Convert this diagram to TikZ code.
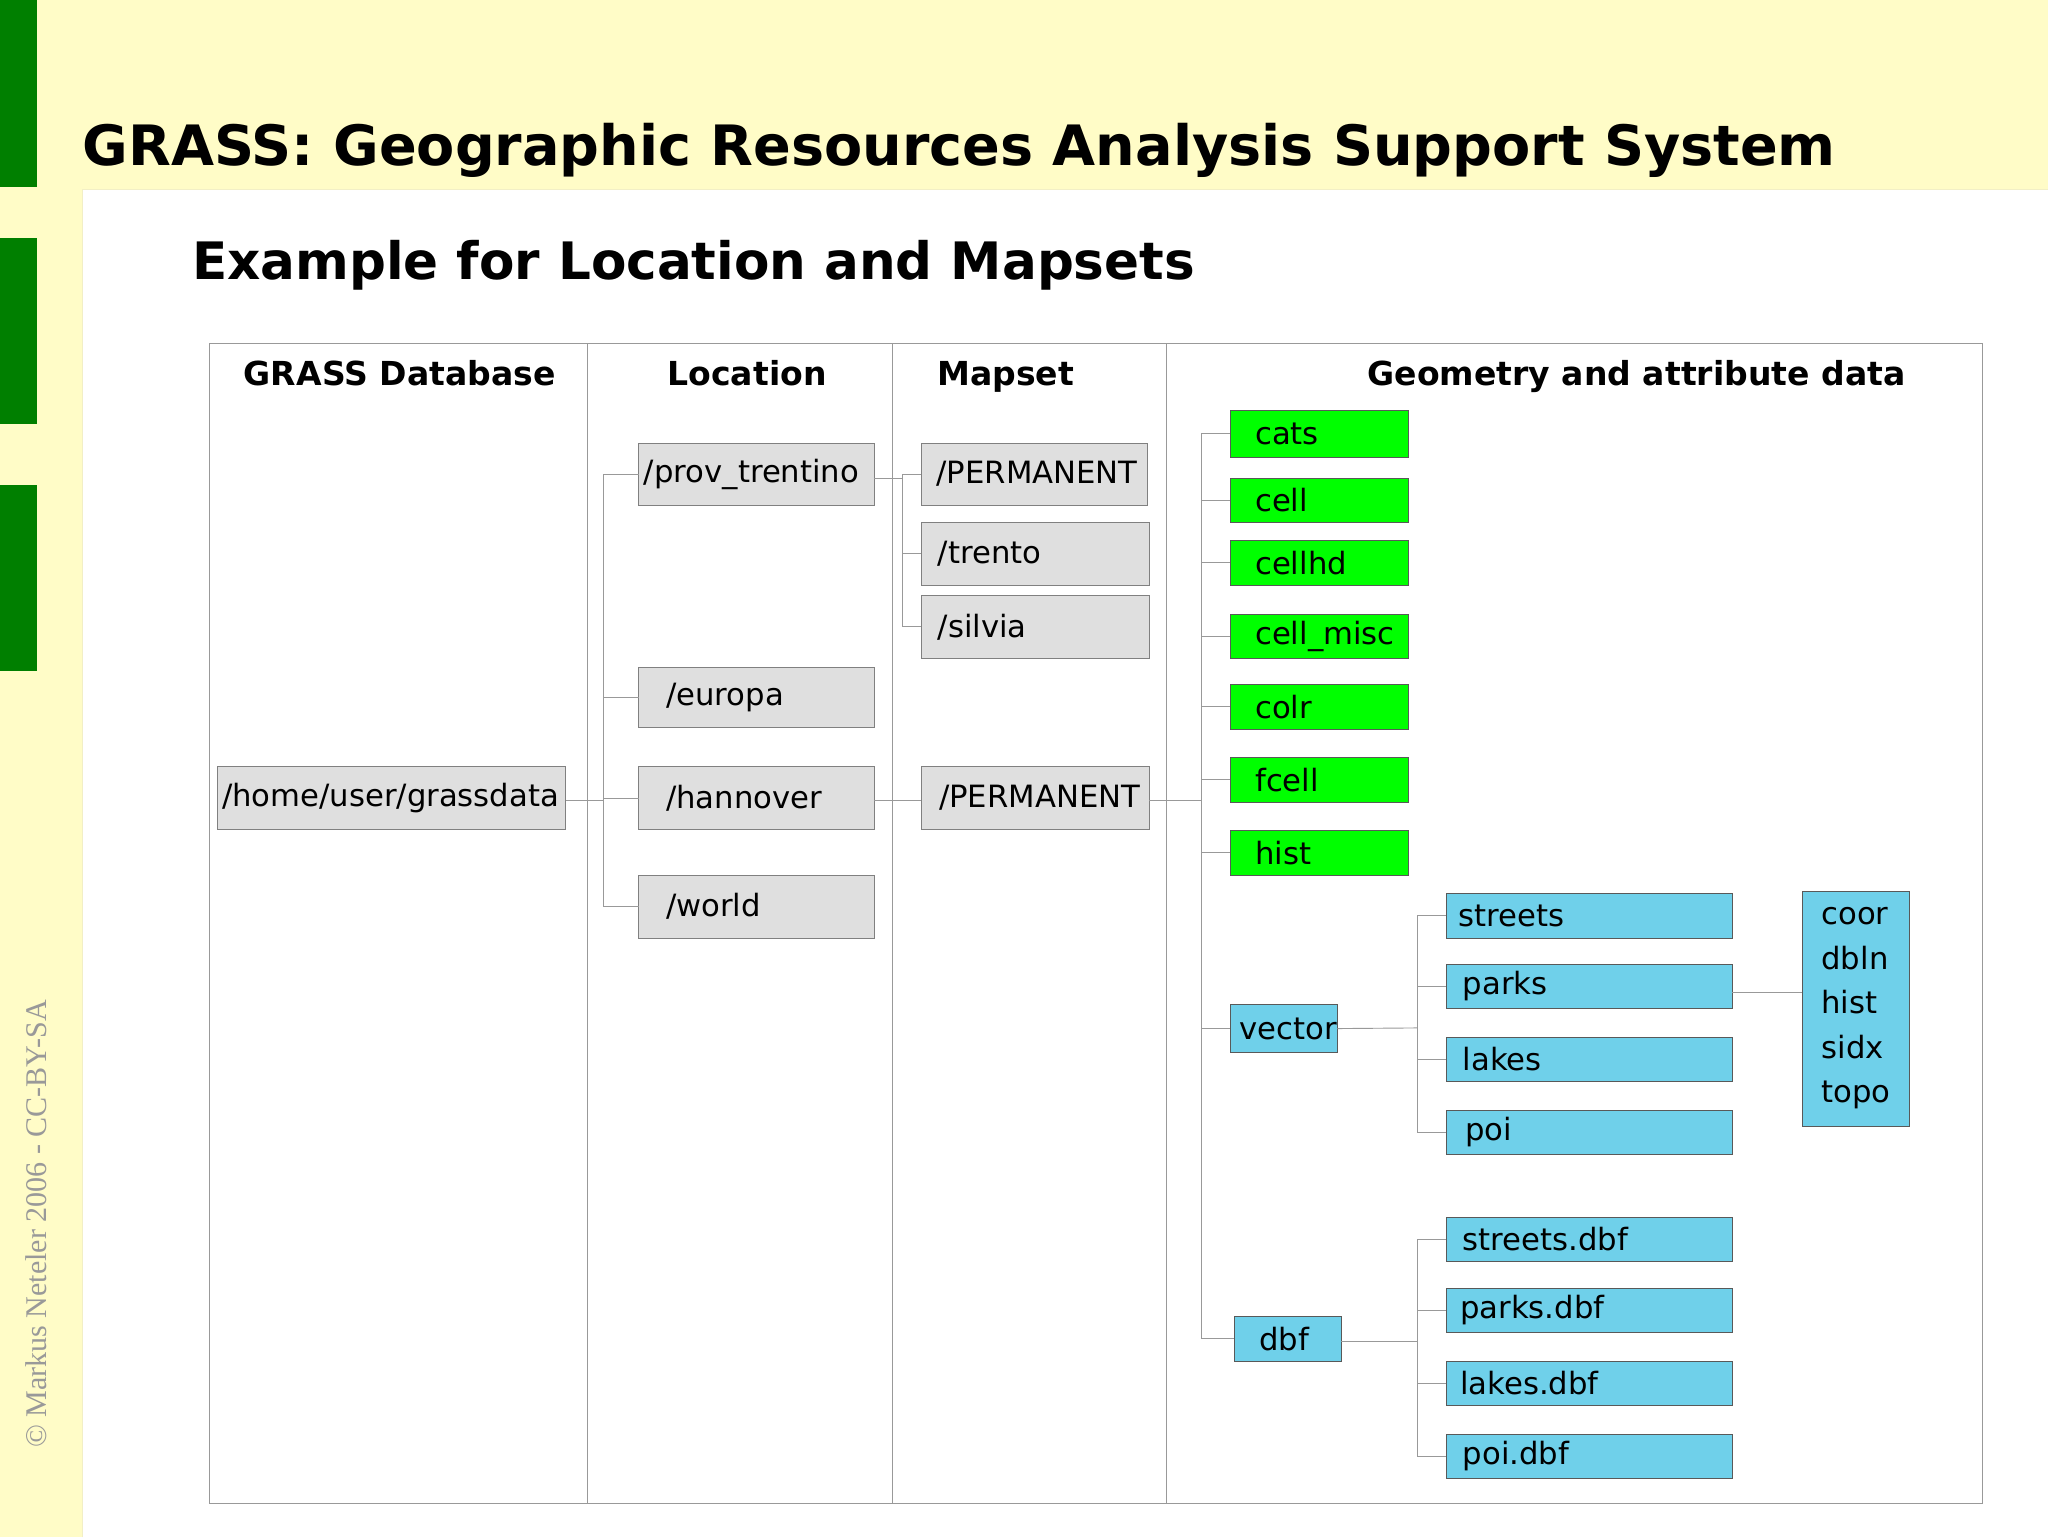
\documentclass[tikz,border=0pt]{standalone}
\usepackage{fontspec}
\setsansfont{DejaVu Sans}
\setmainfont{Liberation Serif}
\begin{document}
\begin{tikzpicture}[x=1pt,y=-1pt,
  lin/.style={draw=gray!80, line width=0.7pt},
  gbox/.style={fill=gray!25, draw=gray},
  grn/.style={fill=green, draw=gray!70!black},
  hdr/.style={font=\sffamily\bfseries\fontsize{25.3}{28}\selectfont, anchor=base}]
\definecolor{bluebox}{HTML}{6FD0EA}
\tikzset{blu/.style={fill=bluebox, draw=gray!70!black}}
\newcommand\bx[7]{%
  \pgfmathsetmacro\bw{#4-#2-8}\pgfmathsetmacro\bh{#5-#3}%
  \node[#6, anchor=north west, inner xsep=4pt, inner ysep=0pt, outer sep=0pt,
    text width=\bw pt, minimum height=\bh pt, align=left,
    font=\sffamily\fontsize{23.5}{26}\selectfont] (#1) at (#2,#3) {\mbox{\raisebox{-2pt}{#7}}};}
\useasboundingbox (0,0) rectangle (1568,1177);
\fill[yellow!22] (0,0) rectangle (1568,1177);
\fill[white] (63,145) rectangle (1568,1177);
\draw[yellow!60!gray!30] (63,1177) -- (63,145) -- (1568,145);
\definecolor{dg}{HTML}{007F00}
\fill[dg] (0,0) rectangle (28,143);
\fill[dg] (0,182) rectangle (28,325);
\fill[dg] (0,371) rectangle (28,514);
\node[rotate=90, anchor=west, text=gray!80, font=\fontsize{23}{26}\selectfont] (cc) at (28,1112) {© Markus Neteler 2006 - CC-BY-SA};
\node[anchor=base west, inner sep=0, font=\sffamily\bfseries\fontsize{42.6}{46}\selectfont] (t1) at (63,127) {GRASS: Geographic Resources Analysis Support System};
\node[anchor=base west, inner sep=0, font=\sffamily\bfseries\fontsize{39.5}{43}\selectfont] (t2) at (147,214) {Example for Location and Mapsets};
\draw[lin] (160,263) rectangle (1518,1151);
\draw[lin] (450,263) -- (450,1151);
\draw[lin] (683,263) -- (683,1151);
\draw[lin] (893,263) -- (893,1151);
\node[hdr] (h1) at (306,295) {GRASS Database};
\node[hdr] (h2) at (572,295) {Location};
\node[hdr] (h3) at (770,295) {Mapset};
\node[hdr] (h4) at (1253,295) {Geometry and attribute data};
\bx{db}{166}{587}{433}{635}{gbox}{/home/user/grassdata}
\bx{pt}{489}{339}{669}{387}{gbox}{/prov\_trentino}
\bx{eu}{489}{511}{669}{557}{gbox}{\hspace*{17pt}/europa}
\bx{ha}{489}{587}{669}{635}{gbox}{\hspace*{17pt}/hannover}
\bx{wo}{489}{670}{669}{718}{gbox}{\hspace*{17pt}/world}
\bx{pm1}{705}{339}{878}{387}{gbox}{\hspace*{8pt}/PERMANENT}
\bx{tr}{705}{400}{880}{448}{gbox}{\hspace*{9pt}/trento}
\bx{si}{705}{456}{880}{504}{gbox}{\hspace*{9pt}/silvia}
\bx{pm2}{705}{587}{880}{635}{gbox}{\hspace*{10pt}/PERMANENT}
\bx{g1}{942}{314}{1078}{350}{grn}{\hspace*{15pt}cats}
\bx{g2}{942}{366}{1078}{400}{grn}{\hspace*{15pt}cell}
\bx{g3}{942}{414}{1078}{448}{grn}{\hspace*{15pt}cellhd}
\bx{g4}{942}{470}{1078}{504}{grn}{\hspace*{15pt}cell\_misc}
\bx{g5}{942}{524}{1078}{558}{grn}{\hspace*{15pt}colr}
\bx{g6}{942}{580}{1078}{614}{grn}{\hspace*{15pt}fcell}
\bx{g7}{942}{636}{1078}{670}{grn}{\hspace*{15pt}hist}
\bx{ve}{942}{769}{1024}{806}{blu}{\hspace*{3pt}vector}
\bx{df}{945}{1008}{1027}{1042}{blu}{\hspace*{15pt}dbf}
\bx{v1}{1107}{684}{1326}{718}{blu}{\hspace*{6pt}streets}
\bx{v2}{1107}{738}{1326}{772}{blu}{\hspace*{9pt}parks}
\bx{v3}{1107}{794}{1326}{828}{blu}{\hspace*{9pt}lakes}
\bx{v4}{1107}{850}{1326}{884}{blu}{\hspace*{11pt}poi}
\bx{d1}{1107}{932}{1326}{966}{blu}{\hspace*{9pt}streets.dbf}
\bx{d2}{1107}{986}{1326}{1020}{blu}{\hspace*{7pt}parks.dbf}
\bx{d3}{1107}{1042}{1326}{1076}{blu}{\hspace*{7pt}lakes.dbf}
\bx{d4}{1107}{1098}{1326}{1132}{blu}{\hspace*{9pt}poi.dbf}
\node[blu, anchor=north west, minimum width=82pt, minimum height=180pt, outer sep=0pt, align=left,
  font=\sffamily\fontsize{23.5}{34}\selectfont] (co) at (1380,682) {coor\\dbln\\hist\\sidx\\topo};
% connectors
\coordinate (j1) at (462,613);
\draw[lin] (db.east |- j1) -- (j1);
\foreach \n in {pt,eu,ha,wo} \draw[lin] (j1) |- (\n.west);
\coordinate (j2) at (691,366);
\draw[lin] (pt.east |- j2) -- (j2);
\foreach \n in {pm1,tr,si} \draw[lin] (j2) |- (\n.west);
\draw[lin] (ha.east |- 0,613) -- (pm2.west |- 0,613);
\coordinate (j3) at (920,613);
\draw[lin] (pm2.east |- j3) -- (j3);
\foreach \n in {g1,g2,g3,g4,g5,g6,g7,ve,df} \draw[lin] (j3) |- (\n.west);
\coordinate (j4) at (1085,787);
\draw[lin] (ve.east) -- (j4);
\foreach \n in {v1,v2,v3,v4} \draw[lin] (j4) |- (\n.west);
\coordinate (j5) at (1085,1027);
\draw[lin] (df.east |- j5) -- (j5);
\foreach \n in {d1,d2,d3,d4} \draw[lin] (j5) |- (\n.west);
\draw[lin] (v2.east |- 0,760) -- (co.west |- 0,760);
\end{tikzpicture}
\end{document}
